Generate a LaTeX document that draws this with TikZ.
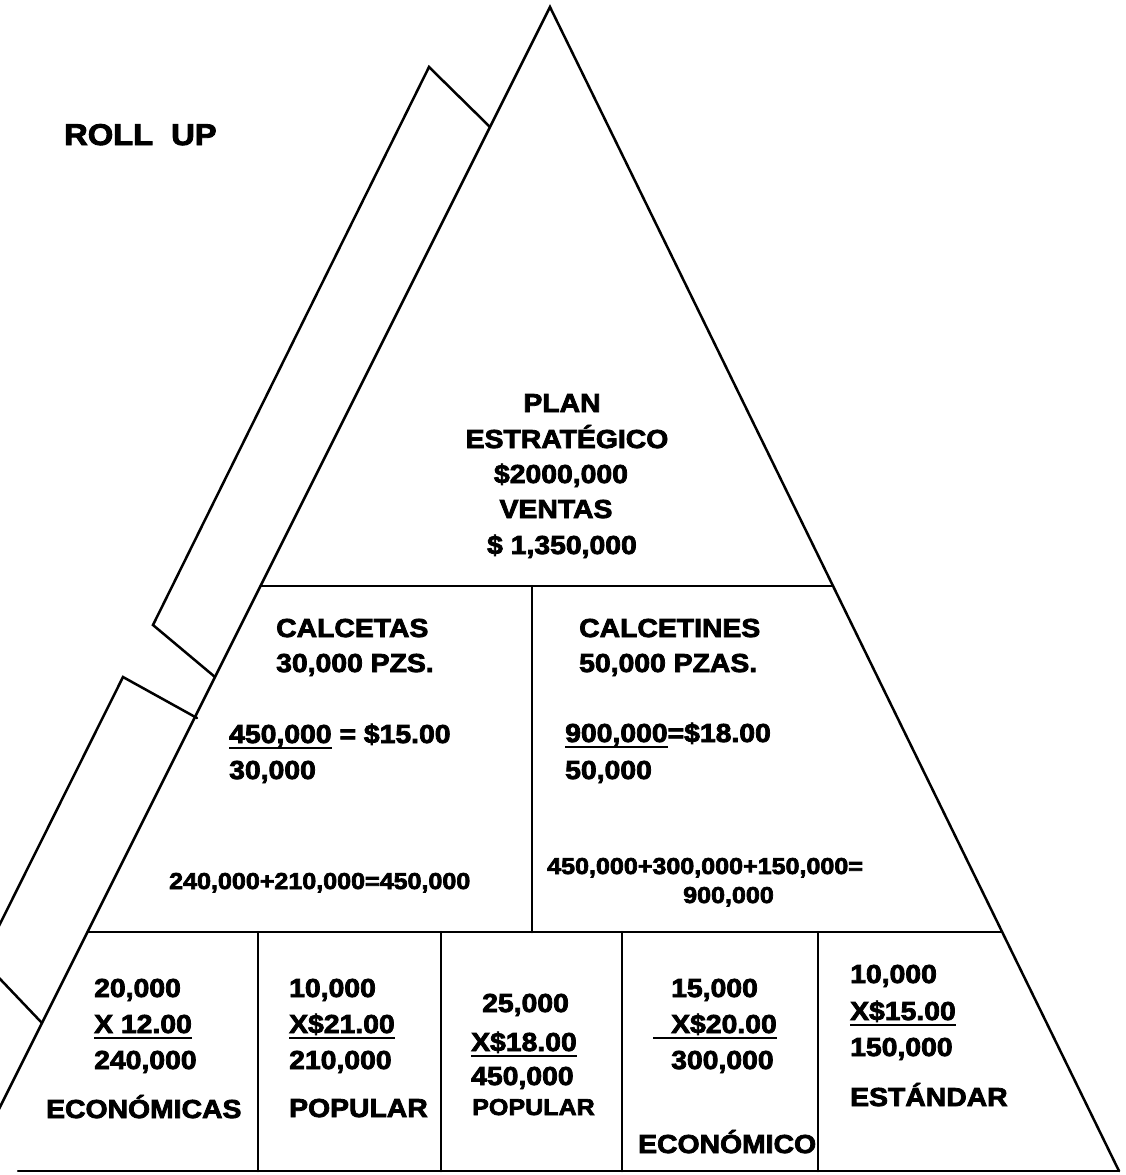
\documentclass[tikz,border=0pt]{standalone}
\usepackage{fontspec}
\setmainfont{Liberation Sans}[FakeStretch=1.08]
\newfontfamily\heavy{Liberation Sans Bold}[FakeStretch=1.09, FakeBold=3]
% underline with a rule of chosen thickness and depth
\newcommand\ulx[1]{\setbox0=\hbox{#1}\rlap{\rule[-6pt]{\wd0}{2.5pt}}\box0\relax}
\begin{document}
\begin{tikzpicture}[x=1pt,y=-1pt,
  edge/.style={line width=2.5pt, line cap=round, line join=miter},
  txt/.style={inner sep=0pt, anchor=base west, font=\heavy\fontsize{26}{36}\selectfont},
  ctxt/.style={txt, anchor=base},
  small/.style={txt, font=\heavy\fontsize{23}{30}\selectfont},
  big/.style={txt, font=\heavy\fontsize{30}{36}\selectfont}]
\useasboundingbox (0,0) rectangle (1126,1175);
\clip (0,0) rectangle (1126,1175);

% pyramid outline
\coordinate (apex) at (550,7);
\coordinate (lx) at (-12,1131);
\coordinate (fl) at (18,1171);
\coordinate (fr) at (1119,1171);
\coordinate (ml) at (260.5,586);
\coordinate (mr) at (833,586);
\coordinate (bl) at (87.5,932);
\coordinate (br) at (1002,932);
\draw[edge] (lx) -- (apex) -- (fr);
\draw[edge] (fl) -- (fr);
\draw[edge] (ml) -- (mr);
\draw[edge] (bl) -- (br);

% dividers
\coordinate (m1t) at (532,586);  \coordinate (m1b) at (532,932);
\draw[edge] (m1t) -- (m1b);
\foreach \i/\x in {1/258,2/441,3/622,4/818}{
  \coordinate (d\i t) at (\x,932);
  \coordinate (d\i b) at (\x,1171);
  \draw[edge] (d\i t) -- (d\i b);
}

% the two rolled strips on the left side
\coordinate (s1a) at (490,127); \coordinate (s1b) at (429,67);
\coordinate (s1c) at (153,625); \coordinate (s1d) at (215,677);
\draw[edge] (s1a) -- (s1b) -- (s1c) -- (s1d);
\coordinate (s2a) at (197,718); \coordinate (s2b) at (123,677);
\coordinate (s2c) at (-18,960); \coordinate (s2d) at (42,1023);
\draw[edge] (s2a) -- (s2b) -- (s2c) -- (s2d);

% title
\node[big] (title) at (64,145) {ROLL\hspace{18pt}UP};

% top level
\node[ctxt] (p1) at (562,412) {PLAN};
\node[ctxt] (p2) at (567,448) {ESTRATÉGICO};
\node[ctxt] (p3) at (561,483) {\$2000,000};
\node[ctxt] (p4) at (556,518) {VENTAS};
\node[ctxt] (p5) at (562,554) {\$ 1,350,000};

% middle level, left
\node[txt] (a1) at (276,637) {CALCETAS};
\node[txt] (a2) at (276,672) {30,000 PZS.};
\node[txt] (a3) at (229,743) {\ulx{450,000} = \$15.00};
\node[txt] (a4) at (229,779) {30,000};
\node[small] (a5) at (169,889) {240,000+210,000=450,000};

% middle level, right
\node[txt] (b1) at (579,637) {CALCETINES};
\node[txt] (b2) at (579,672) {50,000 PZAS.};
\node[txt] (b3) at (565,742) {\ulx{900,000}=\$18.00};
\node[txt] (b4) at (565,779) {50,000};
\node[small] (b5) at (547,874) {450,000+300,000+150,000=};
\node[small] (b6) at (683,903) {900,000};

% bottom level
\node[txt] (c1) at (94,997) {20,000};
\node[txt] (c2) at (94,1033) {\ulx{X 12.00}};
\node[txt] (c3) at (94,1069) {240,000};
\node[txt] (c4) at (46,1118) {ECONÓMICAS};

\node[txt] (e1) at (289,997) {10,000};
\node[txt] (e2) at (289,1033) {\ulx{X\$21.00}};
\node[txt] (e3) at (289,1069) {210,000};
\node[txt] (e4) at (289,1117) {POPULAR};

\node[txt] (f1) at (482,1012) {25,000};
\node[txt] (f2) at (471,1051) {\ulx{X\$18.00}};
\node[txt] (f3) at (471,1085) {450,000};
\node[small] (f4) at (472,1115) {POPULAR};

\node[txt] (g1) at (671,997) {15,000};
\node[txt] (g2) at (653,1033) {\ulx{\hspace{18pt}X\$20.00}};
\node[txt] (g3) at (671,1069) {300,000};
\node[txt] (g4) at (638,1153) {ECONÓMICO};

\node[txt] (h1) at (850,983) {10,000};
\node[txt] (h2) at (850,1020) {\ulx{X\$15.00}};
\node[txt] (h3) at (850,1056) {150,000};
\node[txt] (h4) at (850,1106) {ESTÁNDAR};
\end{tikzpicture}
\end{document}
